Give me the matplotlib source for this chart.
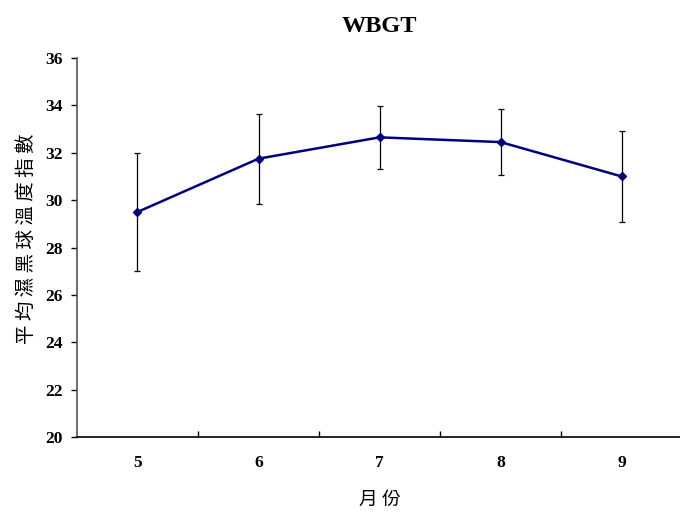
import matplotlib.pyplot as plt

months = [5, 6, 7, 8, 9]
wbgt_mean = [29.5, 31.75, 32.65, 32.45, 31.0]
wbgt_sd = [2.5, 1.9, 1.33, 1.38, 1.92]
y_ticks = [20, 22, 24, 26, 28, 30, 32, 34, 36]

cjk = ['Noto Sans CJK TC', 'DejaVu Sans']
num_font = dict(family='Liberation Serif', weight='bold')

fig = plt.figure(figsize=(6.8, 5.13), dpi=100)
ax = fig.add_axes([0.1132, 0.148, 0.89, 0.739])

ax.errorbar(months, wbgt_mean, yerr=wbgt_sd, color='#000080', lw=1.8,
            marker='D', ms=4.5, ecolor='black', elinewidth=0.9,
            capsize=2.5, capthick=0.9, zorder=3)

ax.set_xlim(4.5, 9.5)
ax.set_ylim(20, 36)
ax.set_yticks(y_ticks)
ax.set_yticklabels([str(v) for v in y_ticks], fontsize=12.5, **num_font)
ax.set_xticks(months)
ax.set_xticklabels([str(m) for m in months], fontsize=12.5, **num_font)
ax.tick_params(axis='x', length=0, pad=13)
ax.set_xticks([5.5, 6.5, 7.5, 8.5], minor=True)
ax.tick_params(axis='x', which='minor', direction='in', length=4, width=1)
ax.tick_params(axis='y', direction='out', length=4, width=1, pad=6)

for side in ['top', 'right']:
    ax.spines[side].set_visible(False)
ax.spines['left'].set_color('#555555')
ax.spines['left'].set_linewidth(1.2)
ax.spines['bottom'].set_linewidth(1.2)

ax.set_title('WBGT', fontsize=17.5, family='Liberation Serif', weight='bold', pad=19)
ax.set_xlabel('月 份', fontsize=13.5, family=cjk, labelpad=13)
ax.set_ylabel('平 均 濕 黑 球 溫 度 指 數', fontsize=14, family=cjk, va='center')
ax.yaxis.set_label_coords(-0.083, 0.524)

fig.savefig('out.png', dpi=100)
